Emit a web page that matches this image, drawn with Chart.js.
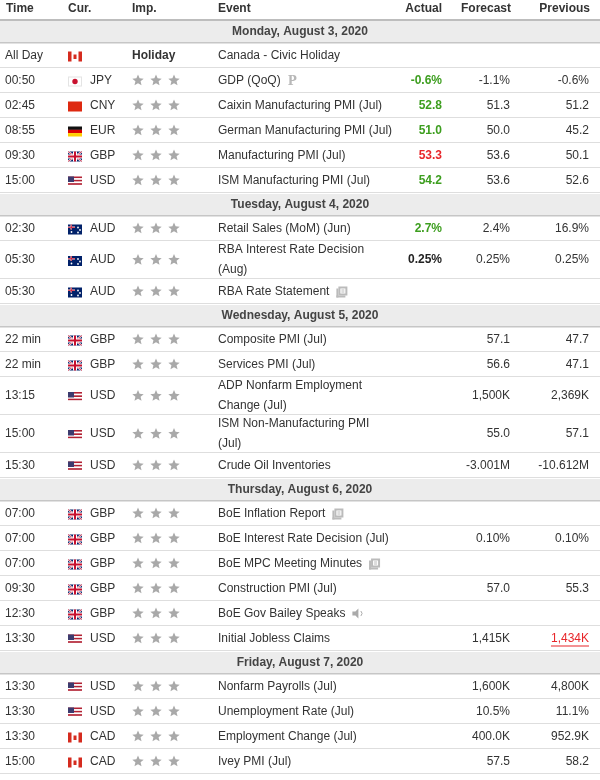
<!DOCTYPE html>
<html>
<head>
<meta charset="utf-8">
<script src="https://cdn.jsdelivr.net/npm/chart.js@4"></script>
<style>
  html, body { margin: 0; padding: 0; background: #fff; }
  #wrap { width: 600px; height: 780px; }
</style>
</head>
<body>
<div id="wrap"><canvas id="cal"></canvas></div>
<script>
// calendar data, one entry per row ("day" rows are the grey date bands)
const rowKind = ["day","ev","ev","ev","ev","ev","ev","day","ev","ev","ev","day","ev","ev","ev","ev","ev","day","ev","ev","ev","ev","ev","ev","day","ev","ev","ev","ev"];
const times = ["Monday, August 3, 2020","All Day","00:50","02:45","08:55","09:30","15:00","Tuesday, August 4, 2020","02:30","05:30","05:30","Wednesday, August 5, 2020","22 min","22 min","13:15","15:00","15:30","Thursday, August 6, 2020","07:00","07:00","07:00","09:30","12:30","13:30","Friday, August 7, 2020","13:30","13:30","13:30","15:00"];
const currencies = ["","CAD","JPY","CNY","EUR","GBP","USD","","AUD","AUD","AUD","","GBP","GBP","USD","USD","USD","","GBP","GBP","GBP","GBP","GBP","USD","","USD","USD","CAD","CAD"];
const events = ["","Canada - Civic Holiday","GDP (QoQ)","Caixin Manufacturing PMI (Jul)","German Manufacturing PMI (Jul)","Manufacturing PMI (Jul)","ISM Manufacturing PMI (Jul)","","Retail Sales (MoM) (Jun)","RBA Interest Rate Decision\n(Aug)","RBA Rate Statement","","Composite PMI (Jul)","Services PMI (Jul)","ADP Nonfarm Employment\nChange (Jul)","ISM Non-Manufacturing PMI\n(Jul)","Crude Oil Inventories","","BoE Inflation Report","BoE Interest Rate Decision (Jul)","BoE MPC Meeting Minutes","Construction PMI (Jul)","BoE Gov Bailey Speaks","Initial Jobless Claims","","Nonfarm Payrolls (Jul)","Unemployment Rate (Jul)","Employment Change (Jul)","Ivey PMI (Jul)"];
const eventIcons = ["","","P","","","","","","","","doc","","","","","","","","doc","","doc","","spk","","","","","",""];
const actual = ["","","-0.6%","52.8","51.0","53.3","54.2","","2.7%","0.25%","","","","","","","","","","","","","","","","","","",""];
const actualTone = ["","","up","up","up","down","up","","up","flat","","","","","","","","","","","","","","","","","","",""];
const forecast = ["","","-1.1%","51.3","50.0","53.6","53.6","","2.4%","0.25%","","","57.1","56.6","1,500K","55.0","-3.001M","","","0.10%","","57.0","","1,415K","","1,600K","10.5%","400.0K","57.5"];
const previous = ["","","-0.6%","51.2","45.2","50.1","52.6","","16.9%","0.25%","","","47.7","47.1","2,369K","57.1","-10.612M","","","0.10%","","55.3","","1,434K","","4,800K","11.1%","952.9K","58.2"];
const previousTone = ["","","","","","","","","","","","","","","","","","","","","","","","down","","","","",""];
const headers = ["Time","Cur.","Imp.","Event","Actual","Forecast","Previous"];

// row heights (layout only)
const HEADER_H = 20, DAY_H = 23, ROW_H = 25, ROW2_H = 38;
const rowTops = [];
let acc = HEADER_H;
rowKind.forEach((k, i) => {
  rowTops.push(acc);
  acc += k === "day" ? DAY_H : (events[i].includes("\n") ? ROW2_H : ROW_H);
});
rowTops.push(acc);

const FONT = "Arial, 'Liberation Sans', sans-serif";
const GREEN = "#3d9e1f", RED = "#e8262a", TEXT = "#333";

function drawFlag(ctx, c, x, y) {
  const w = 14, h = 10;
  ctx.save();
  if (c === "CAD") {
    ctx.fillStyle = "#fff"; ctx.fillRect(x, y, w, h);
    ctx.fillStyle = "#d52b1e"; ctx.fillRect(x, y, 3.5, h); ctx.fillRect(x + 10.5, y, 3.5, h);
    ctx.fillRect(x + 5.5, y + 3, 3, 4.5);
  } else if (c === "JPY") {
    ctx.fillStyle = "#fff"; ctx.fillRect(x, y, w, h);
    ctx.strokeStyle = "#e4e4e4"; ctx.strokeRect(x + 0.5, y + 0.5, w - 1, h - 1);
    ctx.fillStyle = "#c8102e"; ctx.beginPath(); ctx.arc(x + 7, y + 5, 2.7, 0, Math.PI * 2); ctx.fill();
  } else if (c === "CNY") {
    ctx.fillStyle = "#de2910"; ctx.fillRect(x, y, w, h);
  } else if (c === "EUR") {
    ctx.fillStyle = "#111"; ctx.fillRect(x, y, w, 3.4);
    ctx.fillStyle = "#dd0000"; ctx.fillRect(x, y + 3.3, w, 3.4);
    ctx.fillStyle = "#ffce00"; ctx.fillRect(x, y + 6.6, w, 3.4);
  } else if (c === "GBP") {
    ctx.fillStyle = "#012169"; ctx.fillRect(x, y, w, h);
    ctx.strokeStyle = "#fff"; ctx.lineWidth = 2;
    ctx.beginPath(); ctx.moveTo(x, y); ctx.lineTo(x + w, y + h); ctx.moveTo(x + w, y); ctx.lineTo(x, y + h); ctx.stroke();
    ctx.strokeStyle = "#c8102e"; ctx.lineWidth = 0.8; ctx.stroke();
    ctx.fillStyle = "#fff"; ctx.fillRect(x + 5, y, 4, h); ctx.fillRect(x, y + 3, w, 4);
    ctx.fillStyle = "#c8102e"; ctx.fillRect(x + 6, y, 2, h); ctx.fillRect(x, y + 4, w, 2);
  } else if (c === "USD") {
    for (let s = 0; s < 6; s++) {
      ctx.fillStyle = s % 2 ? "#fff" : "#b22234";
      ctx.fillRect(x, y + s * h / 6, w, h / 6 + 0.2);
    }
    ctx.fillStyle = "#3c3b6e"; ctx.fillRect(x, y, 6, 5.5);
  } else if (c === "AUD") {
    ctx.fillStyle = "#012169"; ctx.fillRect(x, y, w, h);
    ctx.fillStyle = "#fff"; ctx.fillRect(x + 2.5, y, 1.5, 5); ctx.fillRect(x, y + 2, 7, 1.5);
    ctx.fillStyle = "#c8102e"; ctx.fillRect(x + 2.8, y, 0.9, 5); ctx.fillRect(x, y + 2.3, 7, 0.9);
    ctx.fillStyle = "#fff";
    [[10, 3], [12, 5.5], [10, 8], [3.5, 7.5]].forEach(p => { ctx.beginPath(); ctx.arc(x + p[0], y + p[1], 0.9, 0, Math.PI * 2); ctx.fill(); });
  }
  ctx.restore();
}

function drawStar(ctx, cx, cy, r) {
  ctx.beginPath();
  for (let k = 0; k < 10; k++) {
    const a = -Math.PI / 2 + k * Math.PI / 5;
    const rr = k % 2 ? r * 0.45 : r;
    ctx.lineTo(cx + rr * Math.cos(a), cy + rr * Math.sin(a));
  }
  ctx.closePath(); ctx.fill();
}

function drawIcon(ctx, kind, x, cy) {
  ctx.save();
  ctx.fillStyle = "#aaa"; ctx.strokeStyle = "#aaa";
  if (kind === "P") {
    ctx.font = "bold 12px 'DejaVu Serif', serif";
    ctx.textBaseline = "middle"; ctx.fillStyle = "#b8b8b8";
    ctx.fillText("P", x, cy + 1);
  } else if (kind === "doc") {
    ctx.fillStyle = "#bbb"; ctx.fillRect(x + 2, cy - 5, 9, 9);
    ctx.fillStyle = "#fff"; ctx.fillRect(x + 4, cy - 3, 5, 5);
    ctx.fillStyle = "#bbb"; ctx.fillRect(x, cy - 3, 2, 9); ctx.fillRect(x, cy + 4, 9, 2);
    ctx.fillRect(x + 5, cy - 2, 3, 1); ctx.fillRect(x + 5, cy, 3, 1);
  } else if (kind === "spk") {
    ctx.beginPath(); ctx.moveTo(x, cy - 2); ctx.lineTo(x + 3, cy - 2); ctx.lineTo(x + 6, cy - 5);
    ctx.lineTo(x + 6, cy + 5); ctx.lineTo(x + 3, cy + 2); ctx.lineTo(x, cy + 2); ctx.closePath(); ctx.fill();
    ctx.lineWidth = 1;
    ctx.beginPath(); ctx.arc(x + 6, cy, 3.5, -0.8, 0.8); ctx.stroke();
  }
  ctx.restore();
}

const tablePlugin = {
  id: "tablePlugin",
  afterDraw(chart) {
    const ctx = chart.ctx;
    const xs = chart.scales.x, ys = chart.scales.y;
    const X = v => xs.getPixelForValue(v), Y = v => ys.getPixelForValue(v);
    ctx.save();
    ctx.textBaseline = "middle";

    // header
    ctx.font = "bold 12px " + FONT; ctx.fillStyle = "#333";
    const hx = [6, 68, 132, 218, 442, 511, 590];
    headers.forEach((h, i) => {
      ctx.textAlign = i >= 4 ? "right" : "left";
      ctx.fillText(h, X(hx[i]), Y(9));
    });
    ctx.fillStyle = "#bdbdbd"; ctx.fillRect(X(0), Y(HEADER_H) - 1, X(600) - X(0), 2);

    rowKind.forEach((k, i) => {
      const top = Y(rowTops[i]), bot = Y(rowTops[i + 1]);
      const cy = (top + bot) / 2;
      if (k === "day") {
        ctx.fillStyle = "#ececec"; ctx.fillRect(X(0), top + 1, X(600) - X(0), bot - top - 1);
        ctx.fillStyle = "#c6c6c6"; ctx.fillRect(X(0), bot - 1, X(600) - X(0), 1.5);
        ctx.fillStyle = "#444"; ctx.font = "bold 12px " + FONT; ctx.textAlign = "center";
        ctx.fillText(times[i], X(300), cy);
        return;
      }
      ctx.fillStyle = "#dedede"; ctx.fillRect(X(0), bot - 1, X(600) - X(0), 1);
      ctx.font = "12px " + FONT; ctx.textAlign = "left"; ctx.fillStyle = TEXT;
      ctx.fillText(times[i], X(5), cy);
      drawFlag(ctx, currencies[i], X(68), cy - 4);
      ctx.fillStyle = TEXT;
      if (times[i] !== "All Day") ctx.fillText(currencies[i], X(90), cy);
      // importance
      if (times[i] === "All Day") {
        ctx.font = "bold 12px " + FONT; ctx.fillStyle = TEXT; ctx.textAlign = "left";
        ctx.fillText("Holiday", X(132), cy);
        ctx.font = "12px " + FONT;
      } else {
        ctx.fillStyle = "#a9a9a9";
        [138, 156, 174].forEach(sx => drawStar(ctx, X(sx), cy, 6));
      }
      // event
      ctx.fillStyle = TEXT; ctx.textAlign = "left";
      const lines = events[i].split("\n");
      lines.forEach((ln, j) => ctx.fillText(ln, X(218), cy + (j - (lines.length - 1) / 2) * 20));
      if (eventIcons[i]) {
        const w = ctx.measureText(lines[lines.length - 1]).width;
        drawIcon(ctx, eventIcons[i], X(218) + w + 7, cy);
      }
      // numbers
      ctx.textAlign = "right";
      if (actual[i]) {
        const t = actualTone[i];
        ctx.fillStyle = t === "up" ? GREEN : t === "down" ? RED : "#222";
        ctx.font = "bold 12px " + FONT;
        ctx.fillText(actual[i], X(442), cy);
        ctx.font = "12px " + FONT;
      }
      ctx.fillStyle = TEXT;
      ctx.fillText(forecast[i], X(510), cy);
      if (previousTone[i] === "down") {
        ctx.fillStyle = RED;
        ctx.fillText(previous[i], X(589), cy);
        const w = ctx.measureText(previous[i]).width;
        ctx.fillRect(X(589) - w, cy + 7, w, 1);
      } else {
        ctx.fillText(previous[i], X(589), cy);
      }
    });
    ctx.restore();
  }
};

new Chart(document.getElementById("cal"), {
  type: "scatter",
  data: { datasets: [{ data: [], pointRadius: 0 }] },
  options: {
    responsive: true,
    maintainAspectRatio: false,
    animation: false,
    layout: { padding: 0 },
    plugins: { legend: { display: false }, tooltip: { enabled: false } },
    scales: {
      x: { type: "linear", min: 0, max: 600, display: false },
      y: { type: "linear", min: 0, max: 780, reverse: true, display: false }
    }
  },
  plugins: [tablePlugin]
});
</script>
</body>
</html>
